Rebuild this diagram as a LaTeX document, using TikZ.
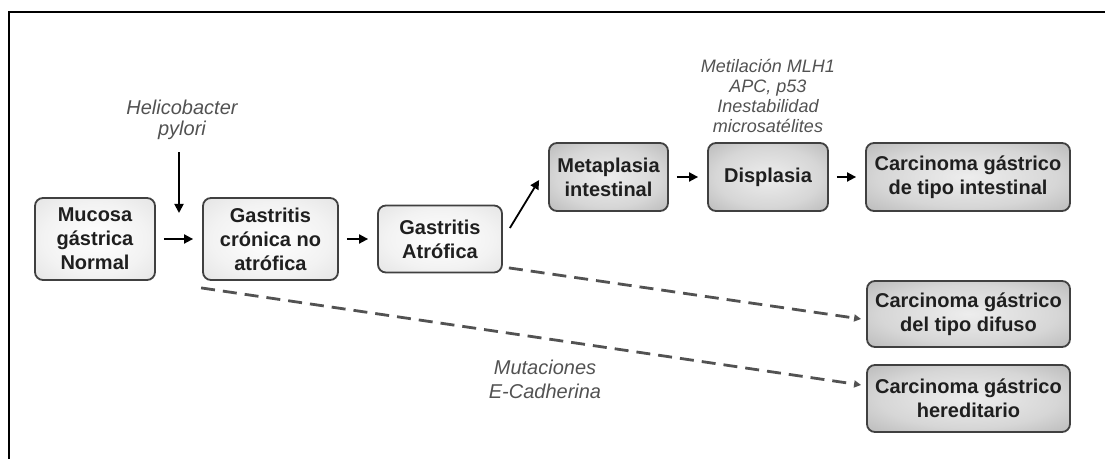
\documentclass[tikz,border=0pt]{standalone}
\usepackage{fontspec}
\setmainfont{Liberation Sans}
\usetikzlibrary{arrows.meta}
\pgfdeclareradialshading{clara}{\pgfpointorigin}{color(0bp)=(white); color(22bp)=(black!5); color(50bp)=(black!16)}
\pgfdeclareradialshading{gris}{\pgfpointorigin}{color(0bp)=(black!7); color(22bp)=(black!16); color(50bp)=(black!38)}

\begin{document}
\begin{tikzpicture}[x=0.5pt, y=-0.5pt,
  etapa/.style={draw=black!75, line width=0.9pt, rounded corners=4pt, align=center, inner sep=0pt, text=black!88, font=\fontsize{10}{12}\selectfont\bfseries, shading=clara},
  oscura/.style={etapa, shading=gris},
  nota/.style={align=center, inner sep=0pt, text=black!68, font=\fontsize{10}{12}\selectfont\itshape},
  flecha/.style={-{Triangle[length=4.5pt,width=4.5pt]}, line width=0.9pt, shorten <=4pt, shorten >=4.5pt},
  rayas/.style={-{Triangle[length=3.5pt,width=3.5pt]}, line width=1.4pt, black!68, dash pattern=on 7pt off 4pt}]

\useasboundingbox (0,0) rectangle (1105,459);
\draw[line width=1.1pt] (9,459) -- (9,12) -- (1105,12);

\node[etapa, minimum width=60pt, minimum height=41pt] (mucosa) at (95,239) {Mucosa\\gástrica\\Normal};
\node[etapa, minimum width=67.5pt, minimum height=41pt] (cronica) at (270.5,239) {Gastritis\\crónica no\\atrófica};
\node[etapa, minimum width=62pt, minimum height=33.5pt] (atrofica) at (440,239) {Gastritis\\Atrófica};
\node[oscura, minimum width=59.5pt, minimum height=34pt] (metaplasia) at (608.5,177) {Metaplasia\\intestinal};
\node[oscura, minimum width=60pt, minimum height=34pt] (displasia) at (768,177) {Displasia};
\node[oscura, minimum width=102pt, minimum height=34pt] (intestinal) at (968,177) {Carcinoma gástrico\\de tipo intestinal};
\node[oscura, minimum width=101.5pt, minimum height=33pt] (difuso) at (968.5,314) {Carcinoma gástrico\\del tipo difuso};
\node[oscura, minimum width=101.5pt, minimum height=33.5pt] (hereditario) at (968.5,398.5) {Carcinoma gástrico\\hereditario};

\node[nota, font=\fontsize{10}{10.5}\selectfont\itshape] (helico) at (182,120) {Helicobacter\\pylori};
\node[nota, font=\fontsize{9}{10}\selectfont\itshape] (metilacion) at (768,96) {Metilación MLH1\\APC, p53\\Inestabilidad\\microsatélites};
\node[nota] (mutaciones) at (545,379) {Mutaciones\\E-Cadherina};
\coordinate (hpfin) at (179,213);

\draw[flecha, shorten <=6pt, shorten >=0pt] (helico.south -| hpfin) -- (hpfin);
\draw[flecha] (mucosa) -- (cronica);
\draw[flecha] (cronica) -- (atrofica);
\draw[flecha, shorten <=0pt, shorten >=0pt] ([shift={(3.5pt,5.5pt)}]atrofica.east) -- ([shift={(-4.5pt,-1.5pt)}]metaplasia.west);
\draw[flecha] (metaplasia) -- (displasia);
\draw[flecha] (displasia) -- (intestinal);
\draw[rayas] ([shift={(3pt,2.75pt)}]atrofica.south east) -- ([shift={(-2.5pt,-2.5pt)}]difuso.west);
\draw[rayas] ([shift={(-0.5pt,-3.5pt)}]cronica.south west) -- ([shift={(-2.5pt,6.75pt)}]hereditario.west);
\end{tikzpicture}
\end{document}
